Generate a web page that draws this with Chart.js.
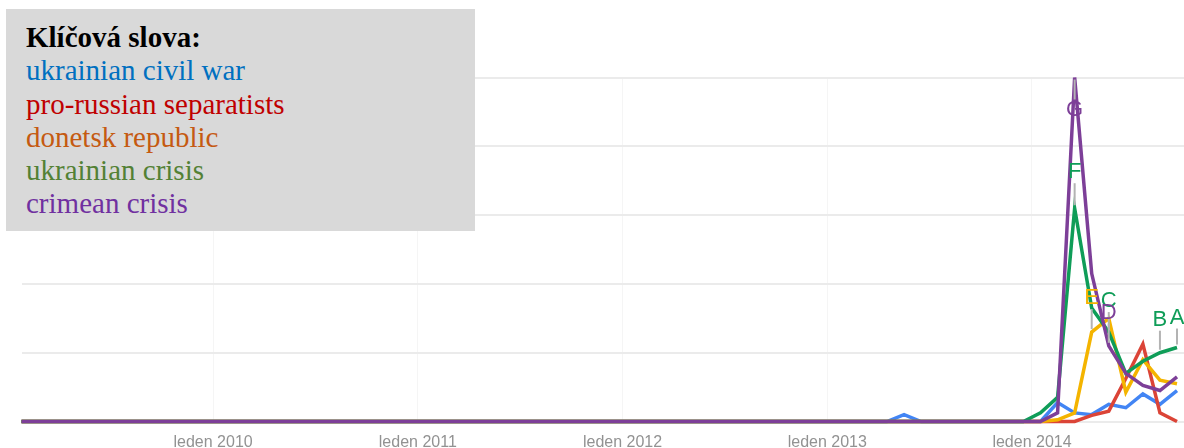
<!DOCTYPE html>
<html>
<head>
<meta charset="utf-8">
<script src="https://cdn.jsdelivr.net/npm/chart.js@4"></script>
<style>
html,body{margin:0;padding:0;background:#fff;}
#wrap{position:relative;width:1184px;height:448px;overflow:hidden;}
#c{position:absolute;left:0;top:0;}
#legend{position:absolute;left:6px;top:9px;width:469px;height:222px;background:#d9d9d9;box-sizing:border-box;padding:12px 0 0 20px;font-family:"Liberation Serif","Times New Roman",serif;font-size:29px;line-height:33.3px;white-space:nowrap;}
#legend b{color:#000;}
</style>
</head>
<body>
<div id="wrap">
<canvas id="c" width="1184" height="448"></canvas>
<div id="legend"></div>
</div>
<script>
// ---- Data (monthly, Jan 2009 .. Sep 2014) ----
const legendTitle = "Klíčová slova:";
const seriesNames = ["ukrainian civil war", "pro-russian separatists", "donetsk republic", "ukrainian crisis", "crimean crisis"];
const startYear = 2009;

const civilWar = [
  0,0,0,0,0,0,0,0,0,0,0,0,
  0,0,0,0,0,0,0,0,0,0,0,0,
  0,0,0,0,0,0,0,0,0,0,0,0,
  0,0,0,0,0,0,0,0,0,0,0,0,
  0,0,0,0,2,0,0,0,0,0,0,0,
  0,5.5,2.5,2,5,4,8,5,9
];
const separatists = [
  0,0,0,0,0,0,0,0,0,0,0,0,
  0,0,0,0,0,0,0,0,0,0,0,0,
  0,0,0,0,0,0,0,0,0,0,0,0,
  0,0,0,0,0,0,0,0,0,0,0,0,
  0,0,0,0,0,0,0,0,0,0,0,0,
  0,0,0,1.8,3,12.5,22.5,2.5,0
];
const donetsk = [
  0,0,0,0,0,0,0,0,0,0,0,0,
  0,0,0,0,0,0,0,0,0,0,0,0,
  0,0,0,0,0,0,0,0,0,0,0,0,
  0,0,0,0,0,0,0,0,0,0,0,0,
  0,0,0,0,0,0,0,0,0,0,0,0,
  0,0.5,2.5,26,30,8.5,18,12,11
];
const ukrCrisis = [
  0,0,0,0,0,0,0,0,0,0,0,0,
  0,0,0,0,0,0,0,0,0,0,0,0,
  0,0,0,0,0,0,0,0,0,0,0,0,
  0,0,0,0,0,0,0,0,0,0,0,0,
  0,0,0,0,0,0,0,0,0,0,0,0,
  2.5,7,62,33,26,14,17.5,20,21.5
];
const crimea = [
  0,0,0,0,0,0,0,0,0,0,0,0,
  0,0,0,0,0,0,0,0,0,0,0,0,
  0,0,0,0,0,0,0,0,0,0,0,0,
  0,0,0,0,0,0,0,0,0,0,0,0,
  0,0,0,0,0,0,0,0,0,0,0,0,
  0,2.5,100,43,22,14,10.5,9,13
];

const tickYears = [2010, 2011, 2012, 2013, 2014];
const tickLabels = ["leden 2010", "leden 2011", "leden 2012", "leden 2013", "leden 2014"];

// News markers: letter, series index, month index
const annLetters = ["A", "B", "C", "D", "E", "F", "G"];
const annSeries = [3, 3, 3, 4, 2, 3, 4];
const annMonths = [68, 67, 64, 64, 63, 62, 62];

// ---- Styles ----
const lineColors = ["#4285f4", "#db4437", "#f4b400", "#0f9d58", "#7d3f98"];
const legendColors = ["#0070c0", "#c00000", "#c55a11", "#538135", "#7030a0"];
const annOffsets = [-30, -33, -31, -33, -34, -36, 32];

// legend box (real text)
const lg = document.getElementById('legend');
let html = '<b>' + legendTitle + '</b>';
seriesNames.forEach((n, i) => { html += '<br><span style="color:' + legendColors[i] + '">' + n + '</span>'; });
lg.innerHTML = html;

const allSeries = [civilWar, separatists, donetsk, ukrCrisis, crimea];
const tickValues = tickYears.map(y => (y - startYear) * 12);

const annotationPlugin = {
  id: 'newsMarkers',
  afterDatasetsDraw(chart, args, opts) {
    const ctx = chart.ctx;
    ctx.save();
    annLetters.forEach((L, k) => {
      const meta = chart.getDatasetMeta(annSeries[k]);
      const pt = meta.data[annMonths[k]];
      const x = pt.x, y = pt.y;
      const dy = opts.offsets[k];
      ctx.strokeStyle = '#b3b3b3';
      ctx.lineWidth = 2;
      ctx.beginPath();
      if (dy < 0) { ctx.moveTo(x, y + dy + 11); ctx.lineTo(x, y - 3); }
      else { ctx.moveTo(x, y + 2); ctx.lineTo(x, y + dy - 10); }
      ctx.stroke();
      ctx.font = '22px "Liberation Sans", Arial, sans-serif';
      ctx.textAlign = 'center';
      ctx.textBaseline = 'middle';
      ctx.fillStyle = lineColors[annSeries[k]];
      ctx.fillText(L, x, y + dy);
    });
    ctx.restore();
  }
};

new Chart(document.getElementById('c'), {
  type: 'line',
  data: {
    datasets: allSeries.map((vals, i) => ({
      label: seriesNames[i],
      data: vals.map((v, m) => ({ x: m + 0.5, y: v })),
      borderColor: lineColors[i],
      backgroundColor: lineColors[i],
      borderWidth: 3.5,
      pointRadius: 0,
      tension: 0,
      fill: false,
      order: 5 - i,
      clip: { left: 0, top: 12, right: 0, bottom: 3 }
    }))
  },
  options: {
    responsive: false,
    animation: false,
    devicePixelRatio: 1,
    layout: { padding: { left: 21.5, right: 0, top: 77.5, bottom: 0 } },
    plugins: {
      legend: { display: false },
      tooltip: { enabled: false },
      newsMarkers: { offsets: annOffsets }
    },
    scales: {
      x: {
        type: 'linear',
        min: 0.77,
        max: 68.91,
        afterBuildTicks: (s) => { s.ticks = tickValues.map(v => ({ value: v })); },
        afterFit: (s) => { s.height = 26.5; },
        ticks: {
          autoSkip: false,
          maxRotation: 0,
          padding: 11.5,
          color: '#929292',
          font: { family: '"Liberation Sans", Arial, sans-serif', size: 16 },
          callback: (v) => tickLabels[tickValues.indexOf(v)]
        },
        grid: { color: '#f5f5f5', lineWidth: 1, drawTicks: false },
        border: { display: false }
      },
      y: {
        min: 0,
        max: 100,
        ticks: { display: false, stepSize: 20 },
        afterFit: (s) => { s.width = 0; },
        grid: { color: '#ebebeb', lineWidth: 2, drawTicks: false },
        border: { display: false }
      }
    }
  },
  plugins: [annotationPlugin]
});
</script>
</body>
</html>
